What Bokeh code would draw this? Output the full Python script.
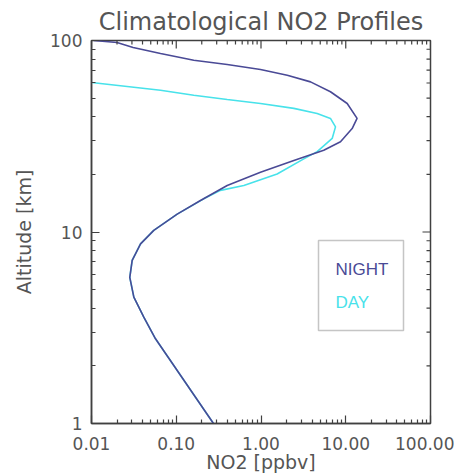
from bokeh.plotting import figure
from bokeh.models import (FixedTicker, PrintfTickFormatter, Label,
                          BoxAnnotation, Range1d)
from bokeh.embed import file_html
from bokeh.resources import INLINE

# ---- data ----
night_alt = [100, 97.6, 92, 85.5, 78.9, 75, 70.6, 65.9, 60.8, 54, 46.9, 39.2,
             34.7, 29.6, 26.7, 23.6, 20.5, 17.5, 14.6, 12.4, 10.2, 8.67, 7.1,
             5.8, 4.57, 3.59, 2.77, 1.0]
night_no2 = [0.0106, 0.02, 0.031, 0.0652, 0.161, 0.399, 0.986, 2.04, 3.84,
             6.6, 10.4, 13.6, 11.9, 8.67, 5.5, 2.44, 0.986, 0.399, 0.193,
             0.1026, 0.0543, 0.0379, 0.0302, 0.0283, 0.0316, 0.0414, 0.0569,
             0.275]

day_alt = [60.4, 55, 51.8, 49.2, 46.9, 44.2, 41.6, 39.2, 35.4, 30.8, 26.3,
           24.1, 20.1, 17.5, 16.5, 14.9, 12.4, 10.2, 8.67, 7.1, 5.8, 4.57,
           3.59, 2.77, 1.0]
day_no2 = [0.01, 0.0652, 0.161, 0.399, 0.986, 2.44, 4.6, 6.6, 7.57, 6.92, 4.6,
           3.2, 1.55, 0.627, 0.333, 0.211, 0.1026, 0.0543, 0.0379, 0.0302,
           0.0283, 0.0316, 0.0414, 0.0569, 0.275]

x_ticks = [0.01, 0.1, 1, 10, 100]
y_ticks = [1, 10, 100]
series_names = ["NIGHT", "DAY"]
title_text = "Climatological NO2 Profiles"
x_label = "NO2 [ppbv]"
y_label = "Altitude [km]"

NIGHT_COLOR = "#4a4a96"
DAY_COLOR = "#48e2ea"
AX_COLOR = "#404040"
TXT_COLOR = "#555555"
FONT = "DejaVu Sans"

x_minor = [m * t for t in x_ticks[:-1] for m in range(2, 10)]
y_minor = [m * t for t in y_ticks[:-1] for m in range(2, 10)]

FRAME_W, FRAME_H = 339, 383
BORDER_L, BORDER_R, BORDER_T, BORDER_B = 91, 24, 40, 52
MAJOR_LEN, MINOR_LEN = 8, 4

p = figure(width=BORDER_L + FRAME_W + BORDER_R,
           height=BORDER_T + FRAME_H + BORDER_B,
           x_axis_type="log", y_axis_type="log",
           x_range=Range1d(x_ticks[0], x_ticks[-1]),
           y_range=Range1d(y_ticks[0], y_ticks[-1]),
           output_backend="svg", toolbar_location=None,
           min_border_left=BORDER_L, min_border_right=BORDER_R,
           min_border_top=BORDER_T, min_border_bottom=BORDER_B)
p.grid.visible = False
p.outline_line_color = AX_COLOR
p.outline_line_width = 1.5
p.background_fill_color = "white"
p.border_fill_color = "white"

p.title.text = title_text
p.title.text_font = FONT
p.title.text_font_size = "24px"
p.title.text_font_style = "normal"
p.title.text_color = TXT_COLOR
p.title.align = "center"
p.title.standoff = 9

# curves
p.line(day_no2, day_alt, line_color=DAY_COLOR, line_width=1.6)
p.line(night_no2, night_alt, line_color=NIGHT_COLOR, line_width=1.6)


def style_axis(ax, ticks, minors, fmt):
    ax.ticker = FixedTicker(ticks=ticks, minor_ticks=minors)
    ax.formatter = PrintfTickFormatter(format=fmt)
    ax.axis_line_color = AX_COLOR
    ax.axis_line_width = 1.5
    ax.major_tick_line_color = AX_COLOR
    ax.minor_tick_line_color = AX_COLOR
    ax.major_tick_line_width = 1.2
    ax.minor_tick_line_width = 1.2
    ax.major_tick_in = MAJOR_LEN
    ax.major_tick_out = 0
    ax.minor_tick_in = MINOR_LEN
    ax.minor_tick_out = 0
    ax.major_label_text_font = FONT
    ax.major_label_text_color = TXT_COLOR
    ax.major_label_text_font_size = "17px"
    ax.axis_label_text_font = FONT
    ax.axis_label_text_font_size = "19px"
    ax.axis_label_text_font_style = "normal"
    ax.axis_label_text_color = TXT_COLOR


xb = p.xaxis[0]
style_axis(xb, x_ticks, x_minor, "%.2f")
xb.major_label_standoff = 13
xb.axis_label = x_label
xb.axis_label_standoff = -2

yl = p.yaxis[0]
style_axis(yl, y_ticks, y_minor, "%d")
yl.major_label_standoff = 9
yl.axis_label = y_label
yl.axis_label_standoff = 12

# mirrored tick marks on the top and right edges of the frame
px_dec_x = FRAME_W / 4.0
px_dec_y = FRAME_H / 2.0
top_x = x_ticks + x_minor
top_len = [MAJOR_LEN] * len(x_ticks) + [MINOR_LEN] * len(x_minor)
p.segment(x0=top_x, x1=top_x, y0=[y_ticks[-1]] * len(top_x),
          y1=[y_ticks[-1] / 10 ** (L / px_dec_y) for L in top_len],
          line_color=AX_COLOR, line_width=1.2)
right_y = y_ticks + y_minor
right_len = [MAJOR_LEN] * len(y_ticks) + [MINOR_LEN] * len(y_minor)
p.segment(y0=right_y, y1=right_y, x0=[x_ticks[-1]] * len(right_y),
          x1=[x_ticks[-1] / 10 ** (L / px_dec_x) for L in right_len],
          line_color=AX_COLOR, line_width=1.2)

# legend box (screen units relative to the frame)
p.add_layout(BoxAnnotation(left=227, right=312, top=183, bottom=93,
                           left_units="screen", right_units="screen",
                           top_units="screen", bottom_units="screen",
                           fill_alpha=0, line_color=AX_COLOR, line_width=1.5))
for name, col, yy in zip(series_names, [NIGHT_COLOR, DAY_COLOR], [154, 121]):
    p.add_layout(Label(x=244, y=yy, x_units="screen", y_units="screen",
                       text=name, text_font="Liberation Sans",
                       text_font_size="17px", text_color=col,
                       text_align="left", text_baseline="middle"))

open("out.html", "w").write(file_html(p, INLINE))
